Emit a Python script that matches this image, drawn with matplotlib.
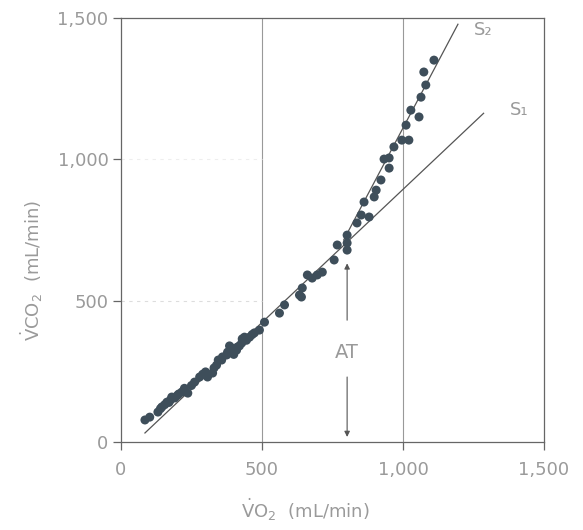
import numpy as np
import matplotlib.pyplot as plt

# breath-by-breath gas exchange samples (mL/min)
vo2 = [85, 102, 131, 145, 163, 180, 191, 216, 237, 261, 279, 307, 325, 339,
       357, 375, 392, 410, 360, 378, 403, 413, 428, 438, 456, 473, 491, 509,
       562, 580, 633, 640, 643, 661, 678, 696, 714, 756, 767, 802, 802, 802,
       837, 852, 880, 862, 898, 905, 922, 951, 933, 951, 968, 996, 1021, 1011,
       1028, 1057, 1064, 1081, 1074, 1110, 420, 445, 395, 250, 200, 170,
       140, 155, 175, 205, 225, 290, 345, 385, 400, 430, 465, 330, 300]
vco2 = [78, 88, 106, 124, 141, 159, 156, 177, 173, 212, 230, 230, 244, 272,
        290, 308, 333, 325, 301, 318, 325, 336, 350, 371, 371, 386, 396, 424,
        456, 485, 520, 513, 545, 591, 580, 591, 601, 644, 697, 679, 704, 732,
        775, 803, 796, 849, 867, 891, 927, 969, 1001, 1005, 1044, 1068, 1068, 1121,
        1174, 1150, 1220, 1263, 1309, 1351, 340, 360, 318, 200, 165, 140,
        118, 132, 148, 170, 190, 240, 290, 340, 310, 365, 380, 262, 248]

# regression lines below and above the threshold
s1_x = [85, 1286]
s1_y = [32, 1163]
s2_x = [790, 1195]
s2_y = [715, 1478]
at_x = 802

gray = '#9a9a9a'
dark = '#3e4e5a'

plt.rcParams['mathtext.fontset'] = 'dejavusans'

fig = plt.figure(figsize=(5.83, 5.30), dpi=100)
ax = fig.add_axes([0.2075, 0.166, 0.7255, 0.8])

ax.axvline(500, color='#999999', lw=0.8, zorder=0)
ax.axvline(1000, color='#999999', lw=0.8, zorder=0)
ax.plot([0, 500], [500, 500], color='#dddddd', lw=0.8, ls=(0, (3, 4)), zorder=0)
ax.plot([0, 500], [1000, 1000], color='#eeeeee', lw=0.8, ls=(0, (3, 4)), zorder=0)

ax.plot(s1_x, s1_y, color='#555555', lw=0.9, zorder=2)
ax.plot(s2_x, s2_y, color='#555555', lw=0.9, zorder=2)
ax.scatter(vo2, vco2, s=42, color=dark, edgecolors='none', zorder=3)

ax.text(1251, 1456, 'S\u2082', fontsize=13, color=gray, va='center', ha='left')
ax.text(1380, 1173, 'S\u2081', fontsize=13, color=gray, va='center', ha='left')

# anaerobic threshold marker
ax.annotate('', xy=(at_x, 632), xytext=(at_x, 431),
            arrowprops=dict(arrowstyle='-|>', color='#555555', lw=0.8,
                            mutation_scale=8, shrinkA=0, shrinkB=0))
ax.annotate('', xy=(at_x, 18), xytext=(at_x, 230),
            arrowprops=dict(arrowstyle='-|>', color='#555555', lw=0.8,
                            mutation_scale=8, shrinkA=0, shrinkB=0))
ax.text(at_x, 318, 'AT', fontsize=14, color=gray, ha='center', va='center')

ax.set_xlim(0, 1500)
ax.set_ylim(0, 1500)
ticks = [0, 500, 1000, 1500]
labels = ['0', '500', '1,000', '1,500']
ax.set_xticks(ticks)
ax.set_xticklabels(labels)
ax.set_yticks(ticks)
ax.set_yticklabels(labels)
ax.tick_params(direction='out', length=6, width=0.9, color='#666666',
               labelcolor=gray, labelsize=13, pad=3)
ax.tick_params(axis='x', pad=8)
for sp in ax.spines.values():
    sp.set_color('#666666')
    sp.set_linewidth(0.9)

ax.set_xlabel(r'$\dot{\mathrm{V}}\mathrm{O}_2$  (mL/min)', fontsize=13, color=gray)
ax.set_ylabel(r'$\dot{\mathrm{V}}\mathrm{CO}_2$  (mL/min)', fontsize=13, color=gray)
ax.xaxis.set_label_coords(0.435, -0.13)
ax.yaxis.set_label_coords(-0.18, 0.405)

fig.savefig('out.png', dpi=100)
